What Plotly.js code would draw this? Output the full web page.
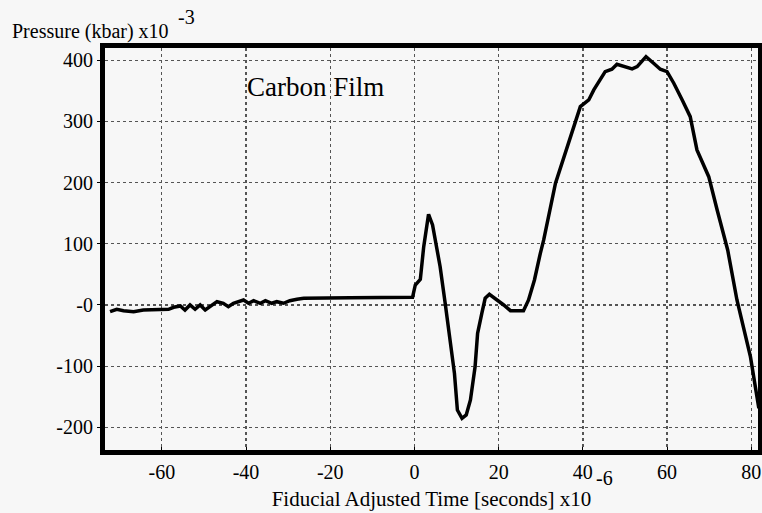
<!DOCTYPE html>
<html>
<head>
<meta charset="utf-8">
<script src="https://cdn.plot.ly/plotly-3.0.1.min.js"></script>
<style>
html,body{margin:0;padding:0;background:#f7f7f7;}
#chart{width:762px;height:513px;}
</style>
</head>
<body>
<div id="chart"></div>
<script>
// Time (x10^-6 s)
const timeUs = [-72.3,-70.7,-69.1,-66.7,-64.4,-60.4,-58.4,-57.2,-55.6,-54.5,-53.3,-52.1,-50.9,-49.7,-48.5,-46.9,-45.4,-44.2,-43.0,-41.8,-40.6,-39.4,-38.2,-36.6,-35.4,-33.9,-32.7,-31.1,-29.6,-27.9,-26.3,-15.3,-8.1,-0.45,0.2,1.4,2.2,3.35,4.3,6.1,7.3,8.5,9.5,10.2,11.3,12.3,13.3,14.4,15.0,16.0,16.8,17.8,19.2,21.2,22.8,25.9,27.1,28.5,29.9,30.7,33.5,37.0,39.4,41.4,42.6,45.3,46.9,48.1,49.7,51.7,52.9,55.0,56.8,58.4,60.0,61.6,63.6,65.5,67.1,69.9,71.9,73.8,74.4,76.6,79.8,81.8];
// Pressure (kbar x10^-3)
const pressure = [-11.0,-7.0,-9.3,-11.0,-8.2,-7.0,-7.0,-3.8,-1.6,-8.2,0,-7.0,0,-8.2,-2.8,5.4,2.8,-2.8,2.8,5.4,8.2,2.8,7.0,2.8,7.0,2.8,5.4,2.8,7.0,9.3,11.0,12.0,12.6,12.6,32.7,42,95.3,148.3,130.8,62.6,2.8,-57.2,-111.7,-171.7,-185.2,-179.8,-155.3,-100.9,-46.3,-13.6,11.0,17.5,11.0,0,-9.3,-9.3,8.2,40.9,84.5,106.3,199.0,275.1,324.2,335.1,351.5,381.4,385.3,393.5,389.6,385.8,389.6,405.9,395.1,385.3,381.4,362.4,335.1,307.8,253.4,209.7,155.3,106.3,89.9,8.2,-84.5,-168.9];

const xTickVals = [-60,-40,-20,0,20,40,60,80];
const xTickText = ['-60','-40','-20','0','20','40','60','80'];
const yTickVals = [-200,-100,0,100,200,300,400];
const yTickText = ['-200','-100','-0','100','200','300','400'];

const seriesLabel = 'Carbon Film';
const xTitle = 'Fiducial Adjusted Time [seconds] x10';
const xExp = '-6';
const yTitle = 'Pressure (kbar) x10';
const yExp = '-3';

const serif = 'Liberation Serif';

const trace = {
  x: timeUs, y: pressure, type: 'scatter', mode: 'lines',
  line: {color: '#000', width: 3.5}, hoverinfo: 'skip', showlegend: false
};

const layout = {
  width: 762, height: 513,
  margin: {l: 105, r: 4, t: 48, b: 63},
  paper_bgcolor: '#f7f7f7', plot_bgcolor: '#f7f7f7',
  font: {family: serif, color: '#000', size: 20},
  xaxis: {
    range: [-73.5, 81.6], tickvals: xTickVals, ticktext: xTickText,
    showgrid: true, gridcolor: '#555', gridwidth: 1.3, griddash: 'dot',
    zeroline: false, showline: true, linecolor: '#000', linewidth: 5, mirror: true,
    ticks: 'inside', ticklen: 3, tickcolor: '#000',
    tickfont: {family: serif, size: 20, color: '#000'},
    title: {text: xTitle, font: {family: serif, size: 21, color: '#000'}, standoff: 11}
  },
  yaxis: {
    range: [-237, 420], tickvals: yTickVals, ticktext: yTickText,
    showgrid: true, gridcolor: '#555', gridwidth: 1.3, griddash: 'dot',
    zeroline: false, showline: true, linecolor: '#000', linewidth: 5, mirror: true,
    ticks: 'outside', ticklen: 3, tickcolor: '#000',
    tickfont: {family: serif, size: 20, color: '#000'}
  },
  annotations: [
    {text: seriesLabel, x: -40.2, y: 356, xref: 'x', yref: 'y', xanchor: 'left', yanchor: 'middle',
     showarrow: false, font: {family: serif, size: 27, color: '#000'}},
    {text: yTitle, x: 10, y: 513 - 32, xref: 'paper', yref: 'paper', showarrow: false,
     xanchor: 'left', yanchor: 'middle', font: {family: serif, size: 20, color: '#000'}},
    {text: yExp, x: 186, y: 513 - 17, xref: 'paper', yref: 'paper', showarrow: false,
     xanchor: 'center', yanchor: 'middle', font: {family: serif, size: 20, color: '#000'}},
    {text: xExp, x: 604, y: 513 - 478, xref: 'paper', yref: 'paper', showarrow: false,
     xanchor: 'center', yanchor: 'middle', font: {family: serif, size: 20, color: '#000'}}
  ]
};
// convert pixel-based paper positions for annotations (outside plot area)
const pw = 762 - 105 - 4, ph = 513 - 48 - 63;
layout.annotations.forEach(a => {
  if (a.xref === 'paper') {
    a.x = (a.x - 105) / pw;
    a.y = (a.y - 63) / ph;
  }
});

Plotly.newPlot('chart', [trace], layout, {staticPlot: true, displayModeBar: false});
</script>
</body>
</html>
